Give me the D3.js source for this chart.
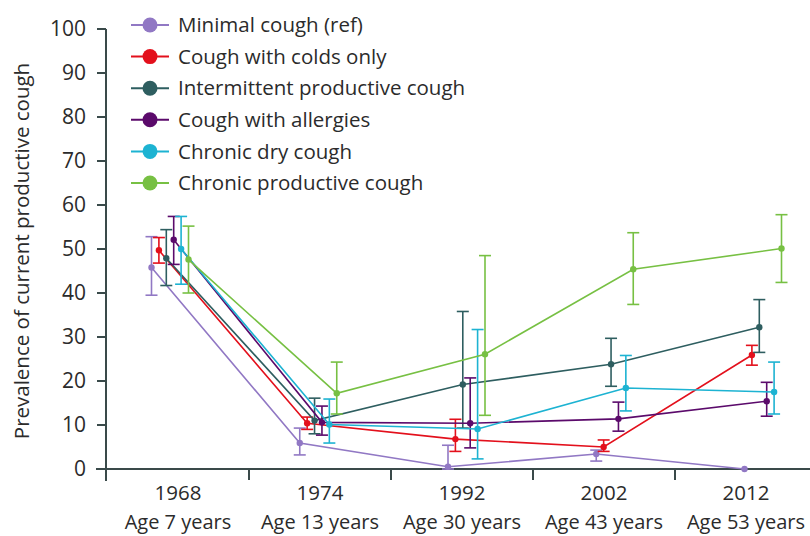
<!DOCTYPE html>
<html>
<head>
<meta charset="utf-8">
<script src="https://cdn.jsdelivr.net/npm/d3@7"></script>
<style>
  body { margin: 0; background: #fff; }
  svg { display: block; }
  text { font-family: "Open Sans", "Noto Sans", sans-serif; fill: #2b2b2b; }
</style>
</head>
<body>
<div id="chart"><svg width="810" height="536"></svg></div>
<script>
// data
var years = ["1968", "1974", "1992", "2002", "2012"];
var ages = ["Age 7 years", "Age 13 years", "Age 30 years", "Age 43 years", "Age 53 years"];
var yTicks = [0, 10, 20, 30, 40, 50, 60, 70, 80, 90, 100];

var seriesNames = ["Minimal cough (ref)", "Cough with colds only", "Intermittent productive cough",
                   "Cough with allergies", "Chronic dry cough", "Chronic productive cough"];
var colors = ["#9178c4", "#e3101c", "#2e5e60", "#5b0a6b", "#1db3d2", "#77c043"];

var minimal      = [45.8, 5.9, 0.5, 3.4, 0];
var coldsOnly    = [49.7, 10.4, 6.8, 5.0, 25.9];
var intermittent = [47.9, 11.0, 19.2, 23.8, 32.2];
var allergies    = [52.1, 10.6, 10.4, 11.4, 15.4];
var dryCough     = [50.0, 10.1, 9.1, 18.4, 17.5];
var productive   = [47.6, 17.2, 26.1, 45.4, 50.1];

var minimalLo      = [39.5, 3.2, 0, 1.8, null];
var minimalHi      = [52.8, 9.3, 5.4, 4.3, null];
var coldsOnlyLo    = [46.8, 9.0, 4.0, 4.0, 23.6];
var coldsOnlyHi    = [52.6, 11.8, 11.3, 6.6, 28.1];
var intermittentLo = [41.7, 8.0, 9.3, 18.8, 26.5];
var intermittentHi = [54.4, 16.1, 35.8, 29.7, 38.5];
var allergiesLo    = [46.5, 7.7, 4.8, 8.6, 12.0];
var allergiesHi    = [57.4, 14.3, 20.7, 15.2, 19.7];
var dryCoughLo     = [42.0, 5.9, 2.3, 13.2, 12.5];
var dryCoughHi     = [57.4, 15.9, 31.7, 25.8, 24.3];
var productiveLo   = [40.0, 12.5, 12.2, 37.4, 42.4];
var productiveHi   = [55.2, 24.3, 48.5, 53.7, 57.8];

var values = [minimal, coldsOnly, intermittent, allergies, dryCough, productive];
var lows   = [minimalLo, coldsOnlyLo, intermittentLo, allergiesLo, dryCoughLo, productiveLo];
var highs  = [minimalHi, coldsOnlyHi, intermittentHi, allergiesHi, dryCoughHi, productiveHi];

var series = seriesNames.map(function(name, i) {
  return {
    name: name, color: colors[i], index: i,
    points: years.map(function(yr, j) {
      return { year: yr, v: values[i][j], lo: lows[i][j], hi: highs[i][j] };
    })
  };
});

var svg = d3.select("#chart").select("svg");

// axis bands for labels/ticks, separate point scale for the dodged marks
var xAxisScale = d3.scaleBand().domain(years).range([107, 817]);
var x = d3.scalePoint().domain(years).range([170, 763]);
var dodge = d3.scaleLinear().domain([0, seriesNames.length - 1]).range([-18.5, 18.5]);
var y = d3.scaleLinear().domain([0, 100]).range([469, 29]);

var axisColor = "#3a4a4a";

// y axis
svg.append("line")
  .attr("x1", 106).attr("x2", 106)
  .attr("y1", y(100)).attr("y2", y(0) + 12)
  .attr("stroke", axisColor).attr("stroke-width", 2);

var yAx = svg.append("g");
yAx.selectAll("line").data(yTicks).enter().append("line")
  .attr("x1", 97).attr("x2", 106)
  .attr("y1", function(d) { return y(d); })
  .attr("y2", function(d) { return y(d); })
  .attr("stroke", axisColor).attr("stroke-width", 2);
yAx.selectAll("text").data(yTicks).enter().append("text")
  .attr("x", 86)
  .attr("y", function(d) { return y(d); })
  .attr("dy", "0.35em")
  .attr("text-anchor", "end")
  .attr("font-size", 21)
  .text(function(d) { return d; });

svg.append("text")
  .attr("transform", "translate(22," + (y(50) + 2) + ") rotate(-90)")
  .attr("dy", "0.35em")
  .attr("text-anchor", "middle")
  .attr("font-size", 20.5)
  .text("Prevalence of current productive cough");

// x axis
svg.append("line")
  .attr("x1", 96).attr("x2", 810)
  .attr("y1", y(0)).attr("y2", y(0))
  .attr("stroke", axisColor).attr("stroke-width", 2);

svg.append("g").selectAll("line").data(years.slice(1)).enter().append("line")
  .attr("x1", function(d) { return xAxisScale(d); })
  .attr("x2", function(d) { return xAxisScale(d); })
  .attr("y1", y(0)).attr("y2", y(0) + 11)
  .attr("stroke", axisColor).attr("stroke-width", 2);

var xl = svg.append("g").selectAll("g").data(years).enter().append("g")
  .attr("transform", function(d) { return "translate(" + (xAxisScale(d) + xAxisScale.bandwidth() / 2) + ",0)"; });
xl.append("text")
  .attr("y", 500)
  .attr("text-anchor", "middle")
  .attr("font-size", 20.5)
  .text(function(d) { return d; });
xl.append("text")
  .attr("y", 529)
  .attr("text-anchor", "middle")
  .attr("font-size", 20)
  .text(function(d, i) { return ages[i]; });

// lines
var sg = svg.append("g").selectAll("g").data(series).enter().append("g");

sg.append("path")
  .attr("fill", "none")
  .attr("stroke", function(d) { return d.color; })
  .attr("stroke-width", 1.6)
  .attr("d", function(s) {
    return d3.line()
      .x(function(d) { return x(d.year) + dodge(s.index); })
      .y(function(d) { return y(d.v); })(s.points);
  });

// error bars
var eb = sg.selectAll("g.err")
  .data(function(s) { return s.points.filter(function(p) { return p.lo != null; })
      .map(function(p) { return { s: s, p: p }; }); })
  .enter().append("g").attr("class", "err")
  .attr("stroke", function(d) { return d.s.color; })
  .attr("stroke-width", 1.6);
eb.append("line")
  .attr("x1", function(d) { return x(d.p.year) + dodge(d.s.index); })
  .attr("x2", function(d) { return x(d.p.year) + dodge(d.s.index); })
  .attr("y1", function(d) { return y(d.p.lo); })
  .attr("y2", function(d) { return y(d.p.hi); });
eb.selectAll("line.cap")
  .data(function(d) { return [d.p.lo, d.p.hi].map(function(v) { return { d: d, v: v }; }); })
  .enter().append("line").attr("class", "cap")
  .attr("x1", function(c) { return x(c.d.p.year) + dodge(c.d.s.index) - 6; })
  .attr("x2", function(c) { return x(c.d.p.year) + dodge(c.d.s.index) + 6; })
  .attr("y1", function(c) { return y(c.v); })
  .attr("y2", function(c) { return y(c.v); });

// points
sg.selectAll("circle")
  .data(function(s) { return s.points.map(function(p) { return { s: s, p: p }; }); })
  .enter().append("circle")
  .attr("cx", function(d) { return x(d.p.year) + dodge(d.s.index); })
  .attr("cy", function(d) { return y(d.p.v); })
  .attr("r", 3.2)
  .attr("fill", function(d) { return d.s.color; });

// legend
var legendY = d3.scalePoint().domain(seriesNames).range([25, 183]);
var lg = svg.append("g").selectAll("g").data(series).enter().append("g")
  .attr("transform", function(d) { return "translate(0," + legendY(d.name) + ")"; });
lg.append("line")
  .attr("x1", 131).attr("x2", 169)
  .attr("stroke", function(d) { return d.color; })
  .attr("stroke-width", 2);
lg.append("circle")
  .attr("cx", 150).attr("r", 7.5)
  .attr("fill", function(d) { return d.color; });
lg.append("text")
  .attr("x", 178)
  .attr("dy", "0.35em")
  .attr("font-size", 20.5)
  .text(function(d) { return d.name; });
</script>
</body>
</html>
